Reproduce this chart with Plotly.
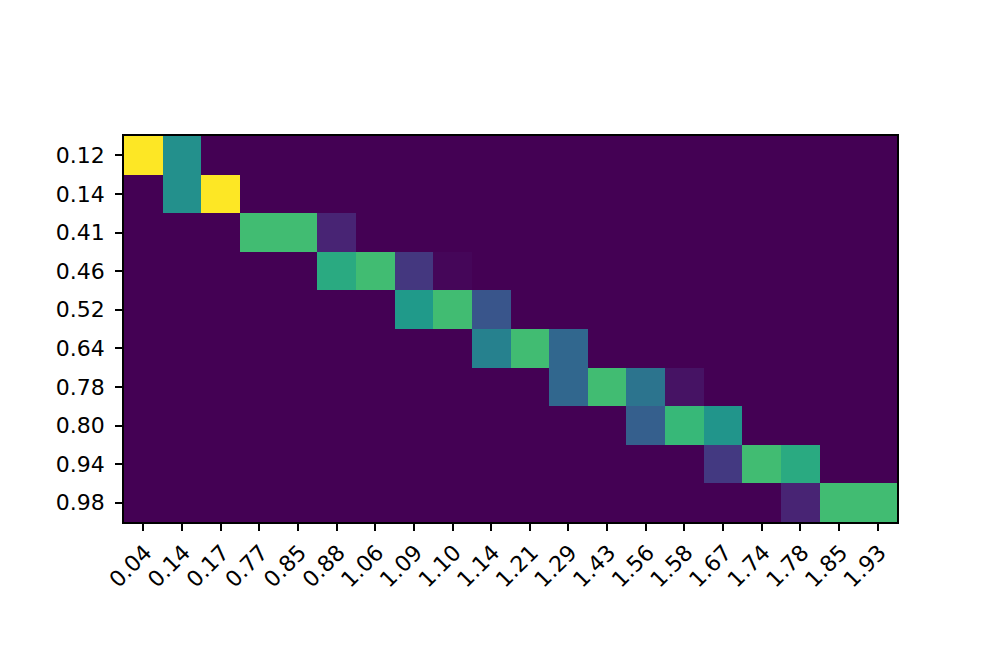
import plotly.graph_objects as go

x_labels = ["0.04", "0.14", "0.17", "0.77", "0.85", "0.88", "1.06", "1.09", "1.10", "1.14",
            "1.21", "1.29", "1.43", "1.56", "1.58", "1.67", "1.74", "1.78", "1.85", "1.93"]
y_labels = ["0.12", "0.14", "0.41", "0.46", "0.52", "0.64", "0.78", "0.80", "0.94", "0.98"]

row_012 = [1.00, 0.50, 0, 0, 0, 0, 0, 0, 0, 0, 0, 0, 0, 0, 0, 0, 0, 0, 0, 0]
row_014 = [0, 0.50, 1.00, 0, 0, 0, 0, 0, 0, 0, 0, 0, 0, 0, 0, 0, 0, 0, 0, 0]
row_041 = [0, 0, 0, 0.69, 0.69, 0.10, 0, 0, 0, 0, 0, 0, 0, 0, 0, 0, 0, 0, 0, 0]
row_046 = [0, 0, 0, 0, 0, 0.61, 0.69, 0.16, 0.015, 0, 0, 0, 0, 0, 0, 0, 0, 0, 0, 0]
row_052 = [0, 0, 0, 0, 0, 0, 0, 0.54, 0.69, 0.265, 0, 0, 0, 0, 0, 0, 0, 0, 0, 0]
row_064 = [0, 0, 0, 0, 0, 0, 0, 0, 0, 0.44, 0.69, 0.33, 0, 0, 0, 0, 0, 0, 0, 0]
row_078 = [0, 0, 0, 0, 0, 0, 0, 0, 0, 0, 0, 0.33, 0.69, 0.385, 0.05, 0, 0, 0, 0, 0]
row_080 = [0, 0, 0, 0, 0, 0, 0, 0, 0, 0, 0, 0, 0, 0.30, 0.67, 0.52, 0, 0, 0, 0]
row_094 = [0, 0, 0, 0, 0, 0, 0, 0, 0, 0, 0, 0, 0, 0, 0, 0.17, 0.69, 0.61, 0, 0]
row_098 = [0, 0, 0, 0, 0, 0, 0, 0, 0, 0, 0, 0, 0, 0, 0, 0, 0, 0.10, 0.69, 0.69]

z = [row_012, row_014, row_041, row_046, row_052, row_064, row_078, row_080, row_094, row_098]

fig = go.Figure(go.Heatmap(
    z=z, x=x_labels, y=y_labels,
    colorscale="Viridis", zmin=0, zmax=1, showscale=False,
))

font = dict(family="DejaVu Sans", size=22, color="black")
fig.update_layout(
    width=989, height=656,
    margin=dict(l=116, r=100, t=128, b=142),
    paper_bgcolor="white", plot_bgcolor="white",
    font=font,
)
fig.update_xaxes(type="category", range=[-0.5, 19.5], tickangle=-45,
                 ticks="outside", ticklen=7, tickwidth=1.7, tickcolor="black",
                 showline=True, linewidth=1.7, linecolor="black", mirror=True,
                 showgrid=False, zeroline=False, tickfont=font,
                 ticklabelstandoff=0, ticklabelshift=2)
fig.update_yaxes(type="category", range=[9.5, -0.5],
                 ticks="outside", ticklen=7, tickwidth=1.7, tickcolor="black",
                 showline=True, linewidth=1.7, linecolor="black", mirror=True,
                 showgrid=False, zeroline=False, tickfont=font, ticklabelstandoff=6)

fig.write_html("out.html")
